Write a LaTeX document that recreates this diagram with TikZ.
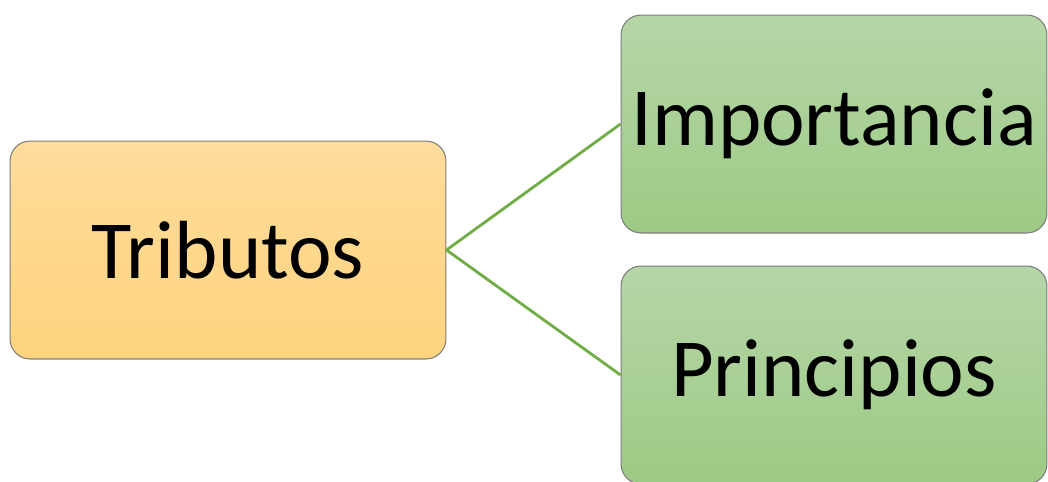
\documentclass[tikz,border=0pt]{standalone}
\usepackage{fontspec}
\setmainfont{Carlito}
\usepackage{tikz}
\usetikzlibrary{positioning}
\definecolor{trorange1}{RGB}{255,220,156}
\definecolor{trorange2}{RGB}{255,212,126}
\definecolor{trgreen1}{RGB}{182,214,167}
\definecolor{trgreen2}{RGB}{157,202,133}
\definecolor{trline}{RGB}{112,173,71}
\definecolor{trgray}{RGB}{125,125,125}
\tikzstyle{link} = [line width=1.6pt, color=trline]
\tikzstyle{mainbox} = [rectangle, rounded corners=0.4cm, minimum width=8.72cm, minimum height=4.36cm, inner sep=0pt, text centered, draw=trgray, top color=trorange1, bottom color=trorange2, line width=0.6pt, font=\fontsize{47}{56}\selectfont]

\begin{document}
\begin{tikzpicture}[x=0.02cm, y=-0.02cm,
    subbox/.style={mainbox, minimum width=8.52cm, top color=trgreen1, bottom color=trgreen2}]

\useasboundingbox (0,0) rectangle (1048,481);

% Central concept
\node[mainbox] (tributos) at (228,250) {Tributos};

% Branches
\node[subbox] (importancia) at (834,124) {Importancia};
\node[subbox] (principios) at (834,375) {Principios};

% Connections
\draw[link] (tributos.east) -- (importancia.west);
\draw[link] (tributos.east) -- (principios.west);
\end{tikzpicture}
\end{document}
